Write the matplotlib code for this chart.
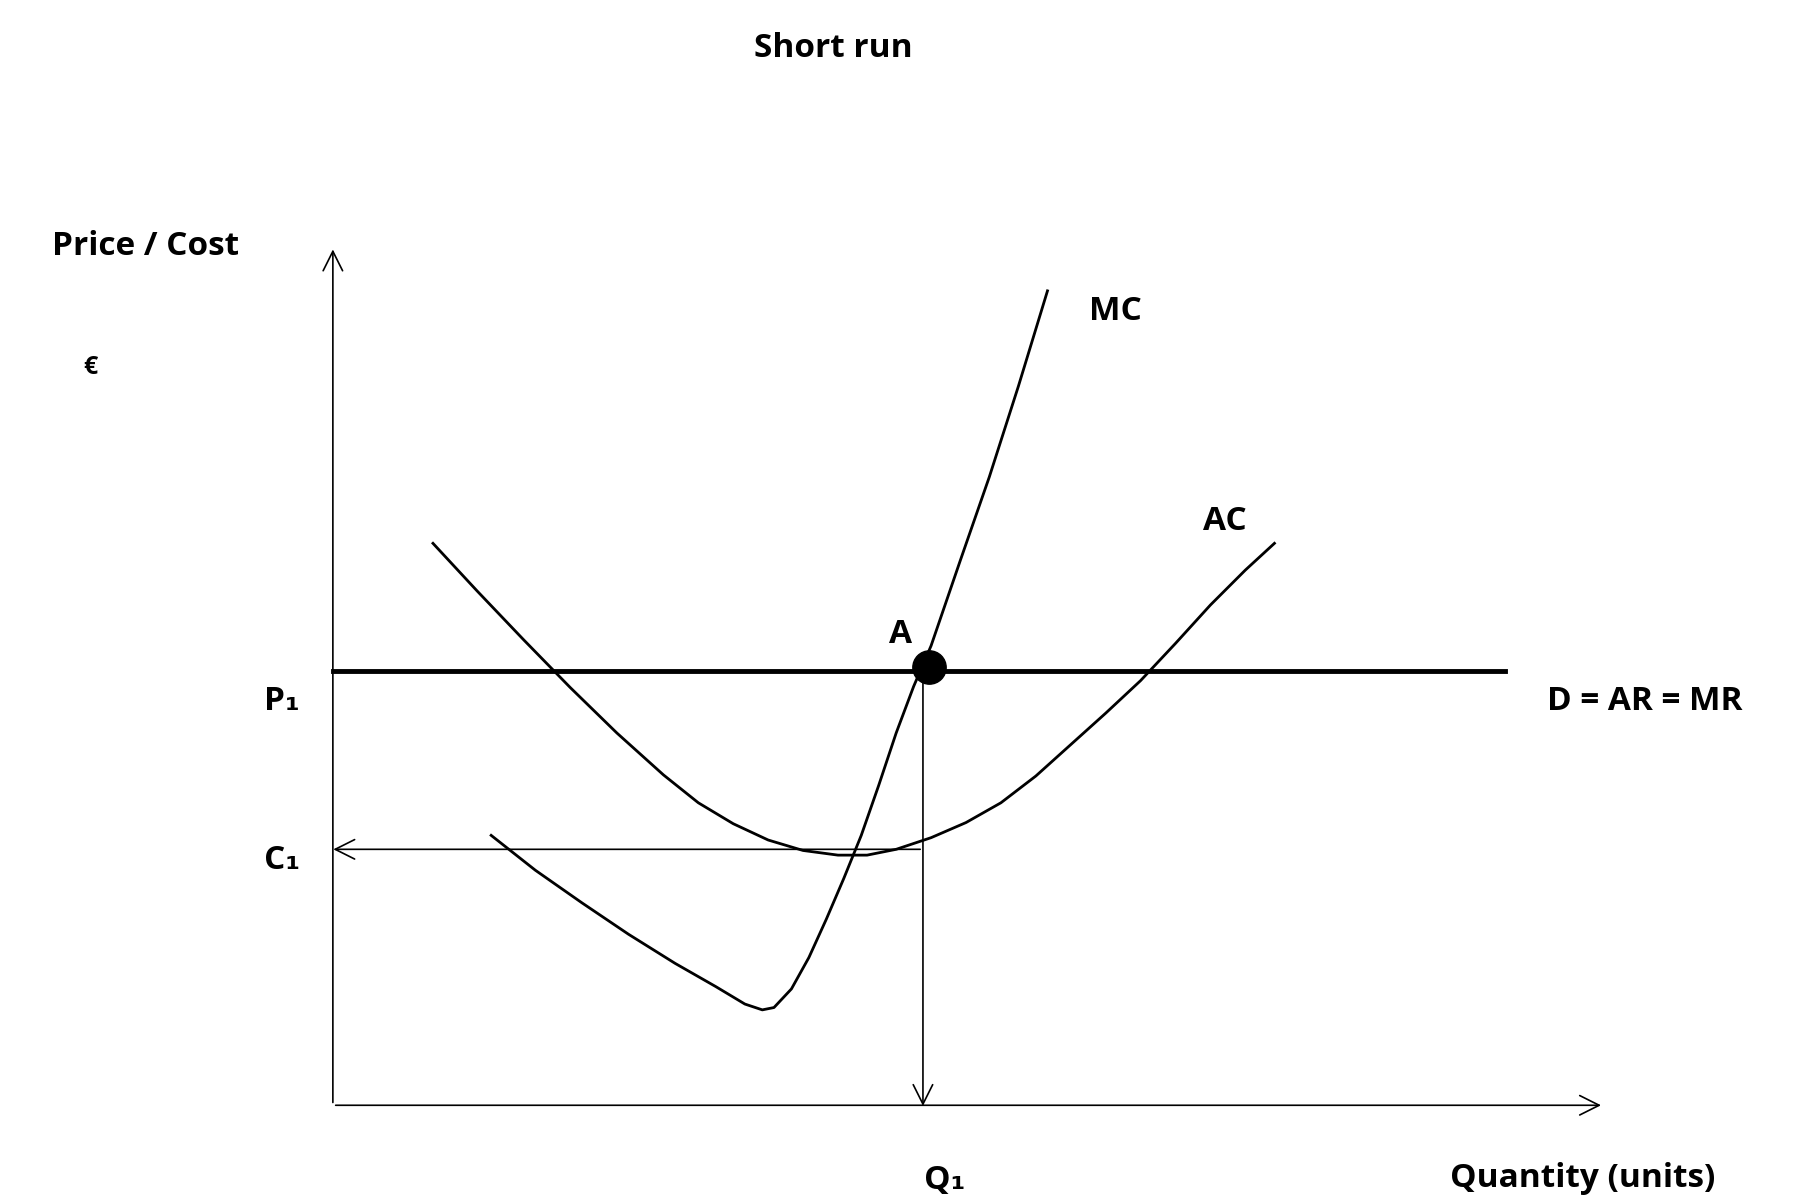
import numpy as np
import matplotlib.pyplot as plt

# curve shapes, in the picture's own coordinate space (x right, y down)
mc_x = [422, 460, 500, 540, 580, 615, 640, 655, 665, 680, 695, 710, 725, 740, 755, 770, 785, 800, 825, 850, 875, 900]
mc_y = [718, 748, 776, 803, 828, 848, 863, 868, 866, 850, 823, 790, 755, 718, 675, 630, 590, 555, 482, 410, 332, 250]
ac_x = [372, 410, 450, 490, 530, 570, 600, 630, 660, 690, 720, 745, 770, 800, 830, 860, 890, 920, 950, 980, 1010, 1040, 1070, 1095]
ac_y = [467, 508, 550, 591, 630, 666, 690, 708, 722, 731, 735, 735, 730, 720, 707, 690, 667, 640, 613, 585, 553, 520, 490, 467]
price_y = 577
cost_y = 730
q1_x = 793
point_a = (798, 573)

fig = plt.figure(figsize=(18.04, 12.03), dpi=100)
ax = fig.add_axes([0, 0, 1, 1])
ax.set_xlim(0, 1550)
ax.set_ylim(1034, 0)
ax.axis('off')

arrow = dict(arrowstyle='->', lw=1.2, color='black', mutation_scale=35)
ax.annotate('', xy=(286, 212), xytext=(286, 950), arrowprops=arrow)
ax.annotate('', xy=(1378, 950), xytext=(286, 950), arrowprops=arrow)
ax.annotate('', xy=(q1_x, 953), xytext=(q1_x, price_y), arrowprops=arrow)
ax.annotate('', xy=(284, cost_y), xytext=(q1_x, cost_y), arrowprops=arrow)

ax.plot([286, 1293], [price_y, price_y], color='black', lw=3.5)
ax.plot(mc_x, mc_y, color='black', lw=2)
ax.plot(ac_x, ac_y, color='black', lw=2)
ax.plot(*point_a, 'o', color='black', markersize=24)

font = dict(family=['Open Sans', 'DejaVu Sans'], fontweight='bold', color='black')
ax.text(716, 42, 'Short run', fontsize=24, ha='center', va='center', **font)
ax.text(125, 212, 'Price / Cost', fontsize=24, ha='center', va='center', **font)
ax.text(78, 316, '€', fontsize=18, ha='center', va='center', **font)
ax.text(958, 268, 'MC', fontsize=24, ha='center', va='center', **font)
ax.text(1052, 448, 'AC', fontsize=24, ha='center', va='center', **font)
ax.text(774, 545, 'A', fontsize=24, ha='center', va='center', **font)
ax.text(242, 603, 'P₁', fontsize=24, ha='center', va='center', **font)
ax.text(242, 740, 'C₁', fontsize=24, ha='center', va='center', **font)
ax.text(1413, 603, 'D = AR = MR', fontsize=24, ha='center', va='center', **font)
ax.text(812, 1015, 'Q₁', fontsize=24, ha='center', va='center', **font)
ax.text(1360, 1013, 'Quantity (units)', fontsize=24, ha='center', va='center', **font)

fig.savefig('out.png', dpi=100, facecolor='white')
